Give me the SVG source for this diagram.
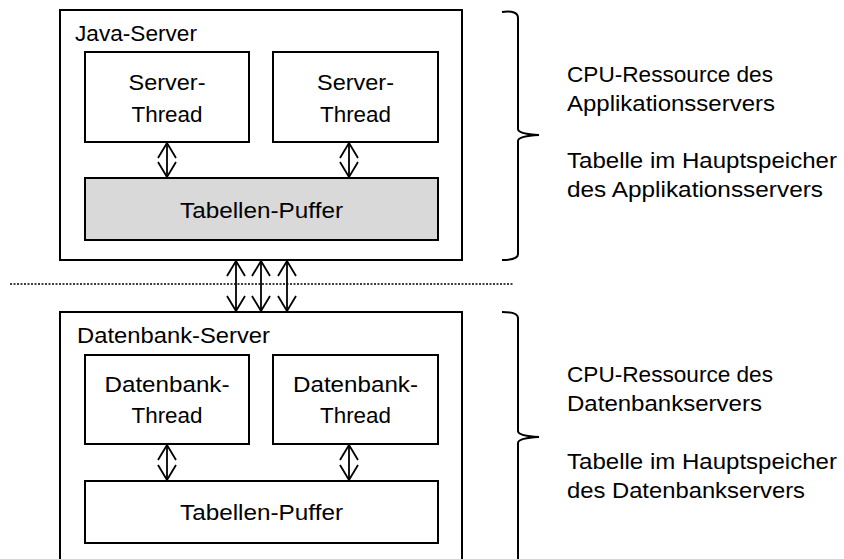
<svg xmlns="http://www.w3.org/2000/svg" width="844" height="559" viewBox="0 0 844 559">
<style>
.box{fill:#fff;stroke:#000;stroke-width:2}
.gray{fill:#d9d9d9;stroke:#000;stroke-width:2}
.t{font-family:"Liberation Sans",Arial,sans-serif;font-size:22.5px;fill:#000}
.c{text-anchor:middle}
.arr{stroke:#000;stroke-width:1.8;fill:none;marker-start:url(#ah);marker-end:url(#ah)}
.brace{stroke:#000;stroke-width:2;fill:none}
</style>
<defs>
<marker id="ah" markerUnits="userSpaceOnUse" orient="auto-start-reverse" refX="0" refY="0" markerWidth="20" markerHeight="20" overflow="visible">
<path d="M-15,-9 L0,0 L-15,9" fill="none" stroke="#000" stroke-width="1.8"/>
</marker>
</defs>
<rect width="844" height="559" fill="#fff"/>

<g id="java-server">
<rect class="box" x="60" y="10" width="402" height="250"/>
<text class="t" x="75" y="41" textLength="122" lengthAdjust="spacingAndGlyphs">Java-Server</text>
</g>
<g id="server-thread-1">
<rect class="box" x="85" y="52" width="164" height="90"/>
<text class="t c" x="167" y="90" textLength="77" lengthAdjust="spacingAndGlyphs">Server-</text>
<text class="t c" x="167" y="122" textLength="71" lengthAdjust="spacingAndGlyphs">Thread</text>
</g>
<g id="server-thread-2">
<rect class="box" x="273" y="52" width="165" height="90"/>
<text class="t c" x="355.5" y="90" textLength="77" lengthAdjust="spacingAndGlyphs">Server-</text>
<text class="t c" x="355.5" y="122" textLength="71" lengthAdjust="spacingAndGlyphs">Thread</text>
</g>
<g id="tabellen-puffer-java">
<rect class="gray" x="85" y="178" width="353" height="62"/>
<text class="t c" x="261.5" y="218" textLength="163" lengthAdjust="spacingAndGlyphs">Tabellen-Puffer</text>
</g>

<g id="datenbank-server">
<rect class="box" x="60" y="312" width="402" height="260"/>
<text class="t" x="77" y="343" textLength="193" lengthAdjust="spacingAndGlyphs">Datenbank-Server</text>
</g>
<g id="datenbank-thread-1">
<rect class="box" x="85" y="355" width="164" height="89"/>
<text class="t c" x="167" y="392" textLength="125" lengthAdjust="spacingAndGlyphs">Datenbank-</text>
<text class="t c" x="167" y="423" textLength="71" lengthAdjust="spacingAndGlyphs">Thread</text>
</g>
<g id="datenbank-thread-2">
<rect class="box" x="273" y="355" width="165" height="89"/>
<text class="t c" x="355.5" y="392" textLength="125" lengthAdjust="spacingAndGlyphs">Datenbank-</text>
<text class="t c" x="355.5" y="423" textLength="71" lengthAdjust="spacingAndGlyphs">Thread</text>
</g>
<g id="tabellen-puffer-db">
<rect class="box" x="85" y="481" width="353" height="62"/>
<text class="t c" x="261.5" y="520" textLength="163" lengthAdjust="spacingAndGlyphs">Tabellen-Puffer</text>
</g>

<g id="separator">
<line x1="10" y1="284" x2="513" y2="284" stroke="#000" stroke-width="1.5" stroke-dasharray="2,1.5"/>
</g>

<g id="connectors">
<line class="arr" x1="167" y1="143" x2="167" y2="177"/>
<line class="arr" x1="349" y1="143" x2="349" y2="177"/>
<line class="arr" x1="167" y1="445" x2="167" y2="480"/>
<line class="arr" x1="349" y1="445" x2="349" y2="480"/>
<line class="arr" x1="236" y1="261" x2="236" y2="311"/>
<line class="arr" x1="261" y1="261" x2="261" y2="311"/>
<line class="arr" x1="287" y1="261" x2="287" y2="311"/>
</g>

<g id="brace-top">
<path class="brace" d="M502,12 Q518,10 518,18 L518,129 Q518,134 539,135 Q518,136 518,141 L518,254 Q518,260 502,260"/>
</g>
<g id="brace-bottom">
<path class="brace" d="M502,312 Q518,312 518,318 L518,431 Q518,436 539,437 Q518,438 518,443 L518,565"/>
</g>

<g id="labels">
<text class="t" x="567" y="82" textLength="206" lengthAdjust="spacingAndGlyphs">CPU-Ressource des</text>
<text class="t" x="567" y="111" textLength="208" lengthAdjust="spacingAndGlyphs">Applikationsservers</text>
<text class="t" x="567" y="168" textLength="270" lengthAdjust="spacingAndGlyphs">Tabelle im Hauptspeicher</text>
<text class="t" x="567" y="197" textLength="256" lengthAdjust="spacingAndGlyphs">des Applikationsservers</text>
<text class="t" x="567" y="382" textLength="206" lengthAdjust="spacingAndGlyphs">CPU-Ressource des</text>
<text class="t" x="567" y="411" textLength="195" lengthAdjust="spacingAndGlyphs">Datenbankservers</text>
<text class="t" x="567" y="469" textLength="270" lengthAdjust="spacingAndGlyphs">Tabelle im Hauptspeicher</text>
<text class="t" x="567" y="498" textLength="238" lengthAdjust="spacingAndGlyphs">des Datenbankservers</text>
</g>
</svg>
